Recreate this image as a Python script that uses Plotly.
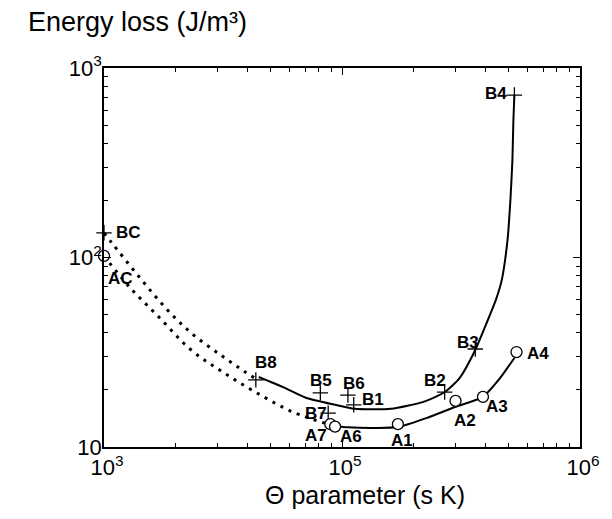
import plotly.graph_objects as go
import math

# ---- data ----
b_labels = ["BC", "B8", "B5", "B6", "B1", "B7", "B2", "B3", "B4"]
b_x = [1.0e4, 43450, 81100, 105900, 112000, 87500, 270000, 363000, 530000]
b_y = [135, 22.6, 19.3, 18.8, 16.7, 15.1, 19.5, 32.9, 720]

a_labels = ["AC", "A7", "A6", "A1", "A2", "A3", "A4"]
a_x = [1.0e4, 89300, 93500, 171700, 300000, 391000, 541000]
a_y = [102, 13.2, 12.8, 13.2, 17.5, 18.4, 31.7]

b_curve_x = [44700, 56600, 70500, 93500, 113000, 160600, 219700, 270500, 311800,
             363000, 399000, 443000, 469000, 496000, 510000, 520000, 525000, 530000]
b_curve_y = [23.4, 20.7, 18.2, 16.7, 15.9, 15.9, 17.3, 19.5, 23.1,
             32.5, 43.0, 59.7, 76.0, 123.6, 201, 327, 532, 720]

a_curve_x = [89300, 105900, 140700, 171800, 226000, 300000, 391000, 455000, 530000]
a_curve_y = [13.0, 12.7, 12.6, 12.75, 14.2, 16.3, 18.4, 22.6, 29.5]

b_dot_x = [1.0e4, 10790, 14060, 18160, 23230, 30880, 39170, 43450]
b_dot_y = [134.6, 119.3, 78.9, 54.1, 40.0, 30.6, 24.9, 22.9]

a_dot_x = [1.0e4, 12790, 17000, 23230, 31480, 43850, 62200, 89300]
a_dot_y = [102, 69.9, 48.5, 32.5, 24.9, 19.3, 15.3, 13.1]

x_tickvals = [1e4, 1e5, 1e6]
x_ticktext = ["10<sup>3</sup>", "10<sup>5</sup>", "10<sup>6</sup>"]
y_tickvals = [10, 100, 1000]
y_ticktext = ["10", "10<sup>2</sup>", "10<sup>3</sup>"]

# label offsets in pixels (dx, dy) -- styling only
b_off = {"BC": (24, 0), "B8": (10, 17), "B5": (1, 12), "B6": (6, 12), "B1": (19, 5),
         "B7": (-12, 0), "B2": (-10, 12), "B3": (-7, 6), "B4": (-18, 2)}
a_off = {"AC": (16, -23), "A7": (-14, -11), "A6": (16, -10), "A1": (4, -16),
         "A2": (9, -20), "A3": (14, -10), "A4": (21, -1)}

FONT = "Liberation Sans, Arial, Helvetica, sans-serif"
fig = go.Figure()

dotline = dict(color="black", width=3, dash="3px,6px")
fig.add_trace(go.Scatter(x=b_dot_x, y=b_dot_y, mode="lines", line=dotline,
                         line_shape="spline", cliponaxis=False, hoverinfo="skip"))
fig.add_trace(go.Scatter(x=a_dot_x, y=a_dot_y, mode="lines", line=dotline,
                         line_shape="spline", cliponaxis=False, hoverinfo="skip"))
fig.add_trace(go.Scatter(x=b_curve_x, y=b_curve_y, mode="lines",
                         line=dict(color="black", width=2), line_shape="spline",
                         line_smoothing=0.6, hoverinfo="skip"))
fig.add_trace(go.Scatter(x=a_curve_x, y=a_curve_y, mode="lines",
                         line=dict(color="black", width=2), line_shape="spline",
                         line_smoothing=0.6, hoverinfo="skip"))
fig.add_trace(go.Scatter(x=b_x, y=b_y, mode="markers", cliponaxis=False,
                         marker=dict(symbol="cross-thin", size=11,
                                     line=dict(color="black", width=1.3))))
fig.add_trace(go.Scatter(x=a_x, y=a_y, mode="markers", cliponaxis=False,
                         marker=dict(symbol="circle", size=11, color="white",
                                     line=dict(color="black", width=1.3))))

annotations = []
for lab, xv, yv in zip(b_labels, b_x, b_y):
    dx, dy = b_off[lab]
    annotations.append(dict(x=math.log10(xv), y=math.log10(yv), xref="x", yref="y",
                            text=f"<b>{lab}</b>", showarrow=False, xshift=dx, yshift=dy,
                            font=dict(size=17, color="black", family=FONT)))
for lab, xv, yv in zip(a_labels, a_x, a_y):
    dx, dy = a_off[lab]
    annotations.append(dict(x=math.log10(xv), y=math.log10(yv), xref="x", yref="y",
                            text=f"<b>{lab}</b>", showarrow=False, xshift=dx, yshift=dy,
                            font=dict(size=17, color="black", family=FONT)))

annotations.append(dict(x=-0.163, y=1.121, xref="paper", yref="paper", xanchor="left",
                        yanchor="middle", text="Energy loss (J/m³)", showarrow=False,
                        font=dict(size=27, color="black", family=FONT)))
annotations.append(dict(x=0.549, y=-0.085, xref="paper", yref="paper", xanchor="center",
                        yanchor="top", text="Θ parameter (s K)", showarrow=False,
                        font=dict(size=25, color="black", family=FONT)))

minor_x = [k * 10 ** e for e in (4, 5) for k in range(2, 10)]
minor_y = [k * 10 ** e for e in (1, 2) for k in range(2, 10)]

axis_common = dict(showline=True, linecolor="black", linewidth=1.5, mirror="allticks",
                   ticks="inside", ticklen=7, tickwidth=1.2, tickcolor="black",
                   showgrid=False, zeroline=False, ticklabeloverflow="allow",
                   tickfont=dict(size=22, color="black", family=FONT))

fig.update_xaxes(type="log", range=[4, 6], tickmode="array", tickvals=x_tickvals,
                 ticktext=x_ticktext, ticklabelshift=3,
                 minor=dict(tickmode="array", tickvals=minor_x, ticks="inside",
                            ticklen=4, tickcolor="black", showgrid=False),
                 **axis_common)
fig.update_yaxes(type="log", range=[1, 3], tickmode="array", tickvals=y_tickvals,
                 ticktext=y_ticktext, ticklabelstandoff=-4,
                 minor=dict(tickmode="array", tickvals=minor_y, ticks="inside",
                            ticklen=4, tickcolor="black", showgrid=False),
                 **axis_common)

# the page has an 8 px body margin; the figure is placed so the plot box
# lands at x 104..590, y 68..447 of the 612x519 window
fig.update_layout(width=604, height=511, margin=dict(l=96, r=22, t=60, b=72),
                  paper_bgcolor="white", plot_bgcolor="white", showlegend=False,
                  annotations=annotations, font=dict(family=FONT, color="black"))

fig.write_html("out.html")
